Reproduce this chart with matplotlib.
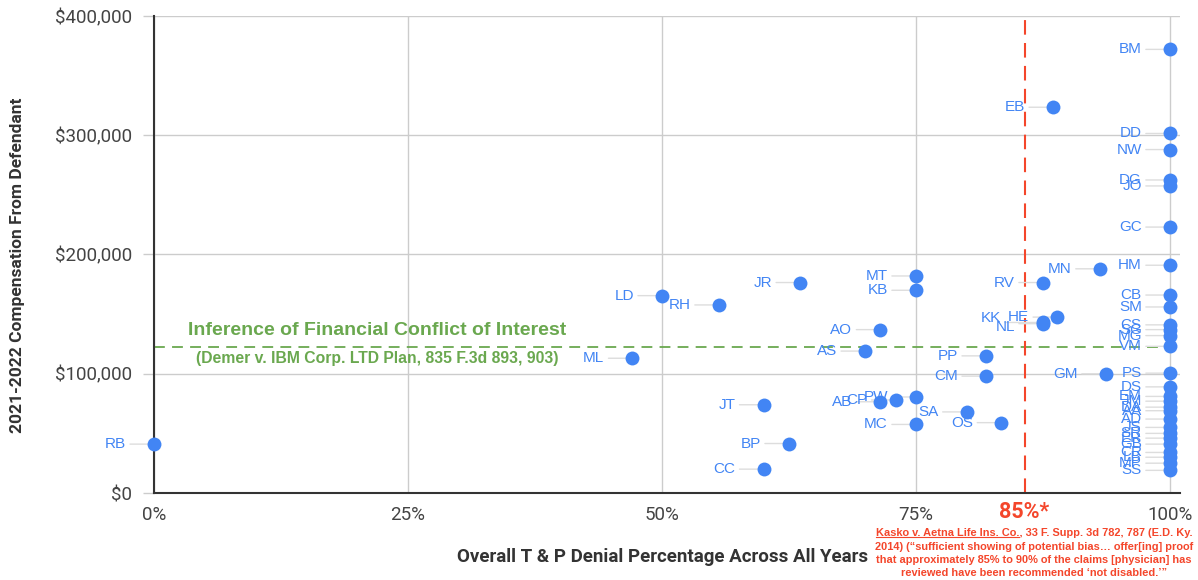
import matplotlib
matplotlib.use('Agg')
import matplotlib.pyplot as plt
from matplotlib.ticker import FuncFormatter
from matplotlib.lines import Line2D

plt.rcParams['font.family'] = ['Roboto', 'DejaVu Sans']

# ---------------- data ----------------
labels = ["BM", "EB", "DD", "NW", "DG", "JO", "GC", "HM", "MN", "MT",
          "RV", "JR", "KB", "LD", "CB", "RH", "SM", "HE", "KK", "NL",
          "CS", "SG", "AO", "MG", "VM", "AS", "PP", "ML", "PS", "GM",
          "CM", "DS", "EM", "PW", "CP", "AB", "JM", "JT", "DA", "AA",
          "SA", "AD", "OS", "MC", "JS", "SR", "ER", "BP", "RB", "GB",
          "CR", "LB", "MP", "SS", "CC"]
denial_pct = [100, 88.5, 100, 100, 100, 100, 100, 100, 93.1, 75,
              87.5, 63.6, 75, 50, 100, 55.6, 100, 88.9, 87.5, 87.5,
              100, 100, 71.5, 100, 100, 70, 81.9, 47.1, 100, 93.7,
              81.9, 100, 100, 75, 73, 71.5, 100, 60, 100, 100,
              80, 100, 83.4, 75, 100, 100, 100, 62.5, 0, 100,
              100, 100, 100, 100, 60]
compensation = [372000, 323500, 301500, 288000, 262500, 257500, 223000, 191000, 188000, 182000,
                176500, 176500, 170000, 165500, 166000, 157700, 156000, 147500, 143000, 142000,
                141000, 137000, 137000, 132000, 123000, 119000, 115000, 113000, 100500, 100000,
                98000, 89000, 81000, 80500, 78000, 76500, 77000, 74000, 72000, 69000,
                68000, 62000, 59000, 57500, 55000, 50000, 46000, 41500, 41000, 41000,
                34000, 30000, 25000, 19000, 20000]

x_ticks = [0, 25, 50, 75, 100]
x_tick_labels = ["0%", "25%", "50%", "75%", "100%"]
y_ticks = [0, 100000, 200000, 300000, 400000]

conflict_threshold = 122500          # green dashed line
kasko_threshold = 85.7               # red dashed line position ("85%*")

# label nudges (pixels) for crowded labels
nudges = {"KK": (-14, 4), "NL": (0, -3)}

BLUE = "#4285F4"
GREEN = "#6aa84f"
RED = "#f4462b"
PX = 0.72  # points per pixel at dpi 100
ARIAL = ['Liberation Sans', 'DejaVu Sans']

fig = plt.figure(figsize=(11.98, 5.8), dpi=100)
ax = fig.add_axes([154 / 1198, 1 - 493 / 580, (1180 - 154) / 1198, (493 - 16) / 580])
ax.set_xlim(0, 101)
ax.set_ylim(0, 400000)

ax.set_xticks(x_ticks)
ax.set_xticklabels(x_tick_labels)
ax.set_yticks(y_ticks)
ax.yaxis.set_major_formatter(FuncFormatter(lambda v, p: f"${v:,.0f}"))
ax.grid(True, color="#cccccc", linewidth=1, zorder=0)
ax.set_axisbelow(True)
ax.tick_params(axis='y', length=8, color='#cccccc', width=1, pad=8, labelsize=13.5, labelcolor='#444444')
ax.tick_params(axis='x', length=0, pad=9, labelsize=13.5, labelcolor='#444444')
for s in ["top", "right"]:
    ax.spines[s].set_visible(False)
for s in ["left", "bottom"]:
    ax.spines[s].set_color("#333333")
    ax.spines[s].set_linewidth(1.5)
    ax.spines[s].set_zorder(2.5)

# reference lines
ax.axhline(conflict_threshold, color=GREEN, linestyle=(0, (6, 4)), linewidth=1.3, zorder=2)
ax.axvline(kasko_threshold, color=RED, linestyle=(0, (7, 4)), linewidth=1.5, zorder=2)

# leader lines + labels
for lab, xv, yv in zip(labels, denial_pct, compensation):
    dx, dy = nudges.get(lab, (0, 0))
    ax.annotate("", xy=(xv, yv), xytext=((-24 + dx) * PX, 0), textcoords="offset points",
                arrowprops=dict(arrowstyle='-', color='#dddddd', lw=1, shrinkA=0, shrinkB=3),
                zorder=2.2, annotation_clip=False)
    ax.annotate(lab, xy=(xv, yv), xytext=((-28 + dx) * PX, dy * PX), textcoords="offset points",
                ha="right", va="center", fontsize=11, color=BLUE, zorder=4,
                family=ARIAL, annotation_clip=False)

ax.scatter(denial_pct, compensation, s=100, color=BLUE, zorder=3, clip_on=False, linewidths=0)

# green annotation text
ax.text(21.95, 136500, "Inference of Financial Conflict of Interest", ha="center", va="center",
        fontsize=14, fontweight="bold", color=GREEN, zorder=4, family=ARIAL)
ax.text(21.95, 113000, "(Demer v. IBM Corp. LTD Plan, 835 F.3d 893, 903)", ha="center", va="center",
        fontsize=11.3, fontweight="bold", color=GREEN, zorder=4, family=ARIAL)

# 85%* label
ax.annotate("85%*", xy=(kasko_threshold, 0), xycoords=("data", "axes fraction"),
            xytext=(0, -19 * PX), textcoords="offset points", ha="center", va="center",
            fontsize=15.5, fontweight="bold", color=RED, annotation_clip=False)

# axis titles
fig.text(663 / 1198, 1 - 557 / 580, "Overall T & P Denial Percentage Across All Years",
         ha="center", va="center", fontsize=13.5, fontweight="bold", color="#333333")
fig.text(18 / 1198, 1 - 265 / 580, "2021-2022 Compensation From Defendant", rotation=90,
         ha="center", va="center", fontsize=12.5, fontweight="bold", color="#333333")

# citation
cite_lines = ["Kasko v. Aetna Life Ins. Co., 33 F. Supp. 3d 782, 787 (E.D. Ky.",
              "2014) (\u201csufficient showing of potential bias\u2026 offer[ing] proof",
              "that approximately 85% to 90% of the claims [physician] has",
              "reviewed have been recommended \u2018not disabled.\u2019\u201d"]
cite_y = [533, 547, 560, 573]
cite_x = 1034 / 1198
CITE_FS = 7.9
texts = []
for line, yy in zip(cite_lines, cite_y):
    texts.append(fig.text(cite_x, 1 - yy / 580, line, ha="center", va="center",
                          fontsize=CITE_FS, fontweight="bold", color=RED, family=ARIAL))

fig.canvas.draw()
renderer = fig.canvas.get_renderer()
bb = texts[0].get_window_extent(renderer)
tmp = fig.text(0, 0, "Kasko v. Aetna Life Ins. Co.", fontsize=CITE_FS, fontweight="bold", family=ARIAL)
w = tmp.get_window_extent(renderer).width
tmp.remove()
W, H = fig.bbox.width, fig.bbox.height
uy = (bb.y0 + 1) / H
fig.add_artist(Line2D([bb.x0 / W, (bb.x0 + w) / W], [uy, uy], transform=fig.transFigure,
                      color=RED, linewidth=0.8))

fig.savefig("out.png", dpi=100)
